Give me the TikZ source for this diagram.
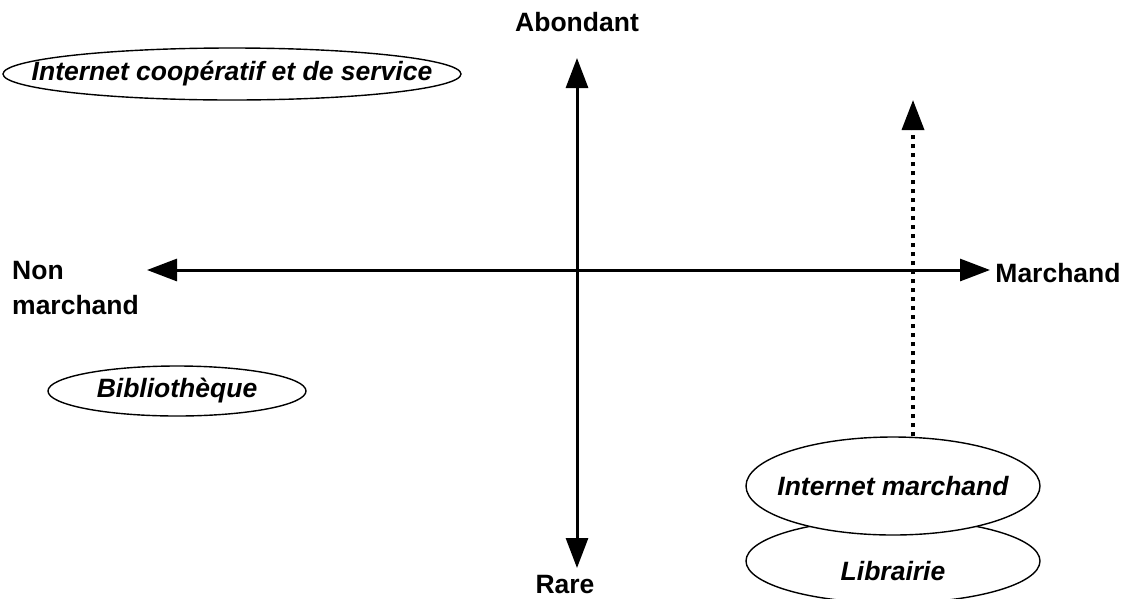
\documentclass[tikz,border=0pt]{standalone}
\usepackage{fontspec}
\setmainfont{Liberation Sans}
\usetikzlibrary{arrows.meta,shapes.geometric}

\begin{document}
\begin{tikzpicture}[x=1pt, y=-1pt, line cap=butt, line join=miter,
  axe/.style={line width=3pt, {Triangle[length=30pt,width=22pt]}-{Triangle[length=30pt,width=22pt]}},
  pole/.style={inner sep=0pt, font=\fontsize{26.5}{35}\selectfont\bfseries},
  zone/.style={ellipse, draw, line width=1.4pt, fill=white, inner sep=0pt},
  zonetexte/.style={inner sep=0pt, font=\fontsize{26.5}{32}\selectfont\bfseries\itshape}]
\useasboundingbox (0,0) rectangle (1132,598);

\coordinate (haut) at (577,58);
\coordinate (bas) at (577,568);
\coordinate (gauche) at (147,270);
\coordinate (droite) at (990,270);
\coordinate (cible) at (913,100);

\draw[axe] (bas) -- (haut);
\draw[axe] (gauche) -- (droite);

\node[pole] (abondant) at (577,22) {Abondant};
\node[pole] (rare) at (565,585) {Rare};
\node[pole] (marchand) at (1058,273) {Marchand};
\node[pole, anchor=west, align=left] (nonmarchand) at (12,288) {Non\\marchand};

\node[zone, minimum width=458pt, minimum height=52pt,
  label={[zonetexte]center:Internet coopératif et de service}] (cooperatif) at (232,74) {};
\node[zone, minimum width=258pt, minimum height=50pt,
  label={[zonetexte]center:Bibliothèque}] (biblio) at (177,391) {};
\node[zone, minimum width=294pt, minimum height=84pt,
  label={[zonetexte, yshift=-10pt]center:Librairie}] (librairie) at (893,561) {};
\node[zone, minimum width=294pt, minimum height=98pt,
  label={[zonetexte]center:Internet marchand}] (internet) at (893,486) {};

\draw[line width=3.5pt, dash pattern=on 4pt off 5pt, -{Triangle[length=30pt,width=22pt]}] (cible |- internet.north) -- (cible);
\end{tikzpicture}
\end{document}
